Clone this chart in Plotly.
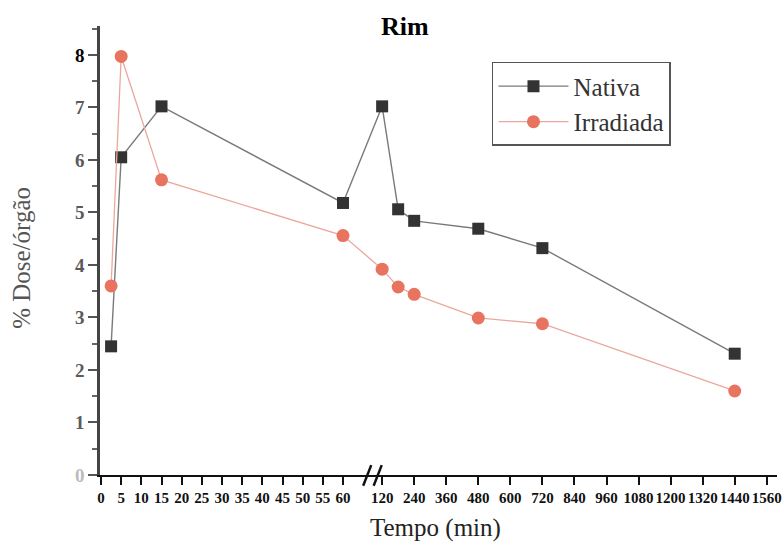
import plotly.graph_objects as go

# Sampling times (min) and % dose per organ for the kidney
time_min = [2.5, 5, 15, 60, 120, 180, 240, 480, 720, 1440]
nativa = [2.45, 6.05, 7.02, 5.18, 7.02, 5.06, 4.84, 4.69, 4.32, 2.31]
irradiada = [3.60, 7.97, 5.62, 4.56, 3.92, 3.58, 3.44, 2.99, 2.88, 1.60]

x_ticks_min = [0, 5, 10, 15, 20, 25, 30, 35, 40, 45, 50, 55, 60,
               120, 240, 360, 480, 600, 720, 840, 960, 1080, 1200, 1320, 1440, 1560]
y_ticks = [0, 1, 2, 3, 4, 5, 6, 7, 8]

# Broken time axis: linear up to 60 min, compressed scale from 120 min on
BREAK_START = 60
BREAK_END = 120
RIGHT_OFFSET = 69.7
RIGHT_SCALE = 1 / 15.1


def broken(t):
    if t <= BREAK_START:
        return t
    return RIGHT_OFFSET + (t - BREAK_END) * RIGHT_SCALE


SERIF = "Liberation Serif, Times New Roman, serif"

fig = go.Figure()

fig.add_trace(go.Scatter(
    x=[broken(t) for t in time_min], y=nativa, name="Nativa",
    mode="lines+markers", legendgroup="a",
    line=dict(color="#7a7a7a", width=1.4),
    marker=dict(symbol="square", size=12, color="#333333"),
))
fig.add_trace(go.Scatter(
    x=[broken(t) for t in time_min], y=irradiada, name="Irradiada",
    mode="lines+markers", legendgroup="b",
    line=dict(color="#eba79d", width=1.3),
    marker=dict(symbol="circle", size=13, color="#e8735f"),
))

y_text = []
for v in y_ticks:
    if v == 0:
        y_text.append('<span style="color:#bbbbbb">0</span>')
    elif v == 8:
        y_text.append('<span style="color:#000000"><b>8</b></span>')
    else:
        y_text.append(str(v))

fig.update_xaxes(
    range=[-0.25, 167.6],
    tickvals=[broken(t) for t in x_ticks_min],
    ticktext=[str(t) for t in x_ticks_min],
    tickfont=dict(family=SERIF, size=15, color="#111111", weight="bold"),
    tickangle=0, automargin=False,
    ticks="outside", ticklen=8, tickwidth=2, tickcolor="#111111",
    showline=True, linecolor="#111111", linewidth=2,
    showgrid=False, zeroline=False,
)
fig.update_yaxes(
    range=[0, 8.55],
    tickvals=y_ticks, ticktext=y_text, automargin=False,
    tickfont=dict(family=SERIF, size=19, color="#5a5a5a", weight="bold"),
    ticks="outside", ticklen=9, tickwidth=2, tickcolor="#555555",
    minor=dict(dtick=0.5, ticks="outside", ticklen=5, tickwidth=2, tickcolor="#666666"),
    showline=True, linecolor="#444444", linewidth=2.5,
    showgrid=False, zeroline=False,
)

# Break marks on the time axis
for xb in (66.0, 68.6):
    fig.add_shape(type="line", xref="x", yref="paper",
                  x0=xb - 1.0, y0=-0.024, x1=xb + 1.0, y1=0.022,
                  line=dict(color="#111111", width=2.5))

fig.add_annotation(text="Rim", xref="paper", yref="paper", x=0.45, y=0.998,
                   xanchor="center", yanchor="middle", showarrow=False,
                   font=dict(family=SERIF, size=26, color="#000000", weight="bold"))
fig.add_annotation(text="Tempo (min)", xref="paper", yref="paper", x=0.495, y=-0.118,
                   xanchor="center", yanchor="middle", showarrow=False,
                   font=dict(family=SERIF, size=25, color="#222222"))
fig.add_annotation(text="% Dose/órgão", xref="paper", yref="paper", x=-0.115, y=0.484,
                   xanchor="center", yanchor="middle", showarrow=False, textangle=-90,
                   font=dict(family=SERIF, size=25, color="#555555"))

fig.update_layout(
    width=782, height=545,
    margin=dict(l=100, r=5, t=26, b=70),
    paper_bgcolor="white", plot_bgcolor="white",
    showlegend=True,
    legend=dict(
        x=0.579, y=0.92, xanchor="left", yanchor="top",
        bgcolor="white", bordercolor="#555555", borderwidth=1.5,
        font=dict(family=SERIF, size=25, color="#333333"),
        tracegroupgap=0, itemwidth=70,
    ),
)

fig.write_html("out.html")
